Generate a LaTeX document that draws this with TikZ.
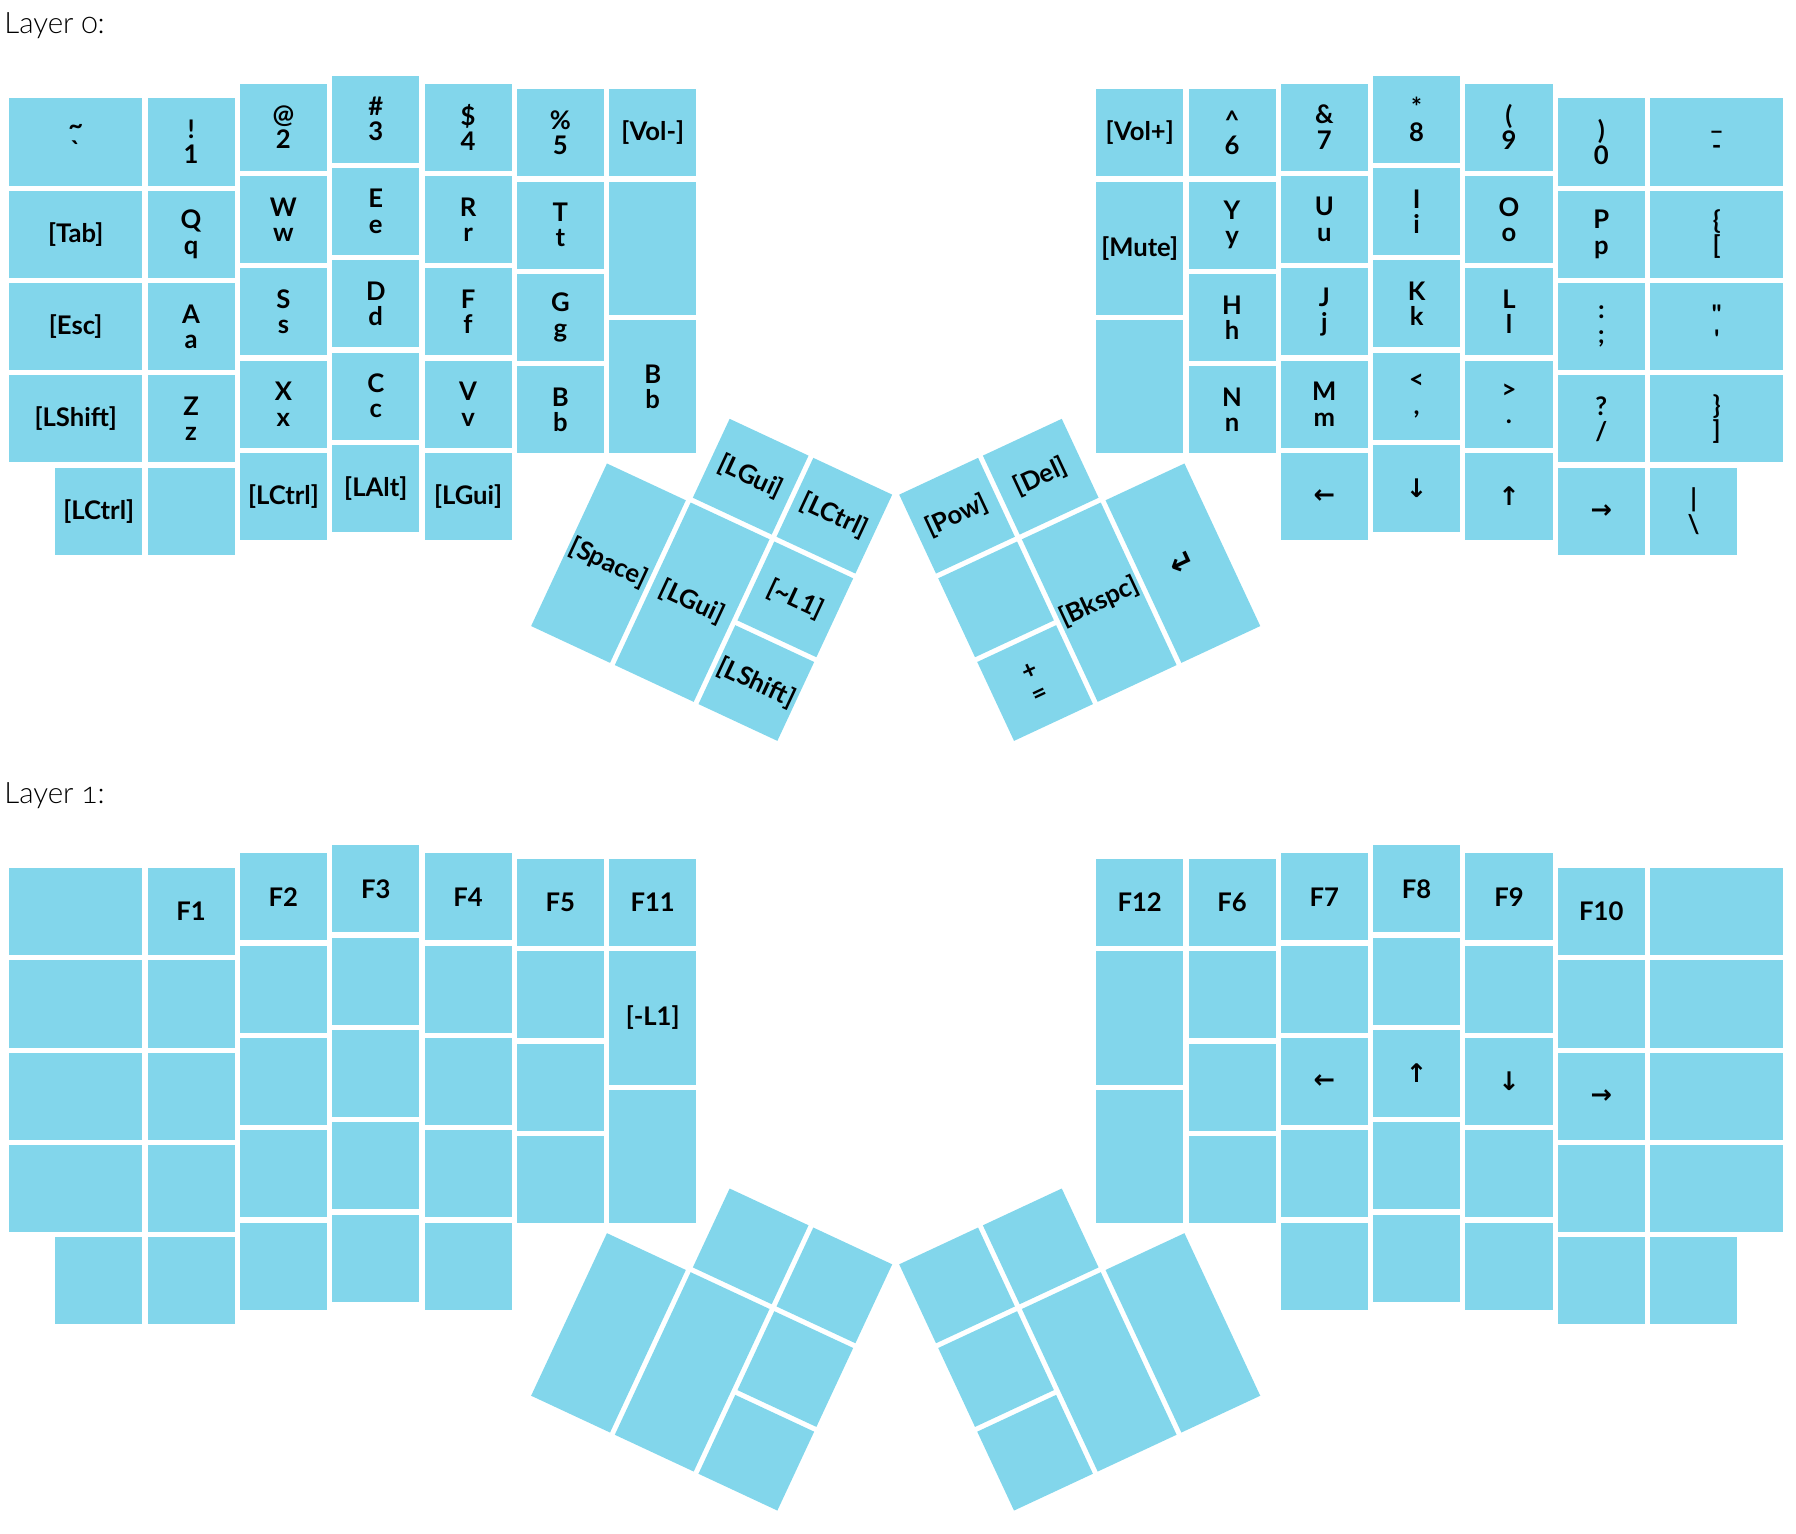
\documentclass[tikz,border=0pt]{standalone}
\usepackage{fontspec}
\setmainfont{Lato}
\newfontfamily\titlefont[Numbers=OldStyle]{Lato Light}
\newfontfamily\arrowfont{DejaVu Sans}
\definecolor{keyblue}{HTML}{82D6EB}

\begin{document}
\begin{tikzpicture}[x=1cm,y=-1cm,
  keycap/.style={fill=keyblue,inner sep=0pt,minimum width=.943cm,minimum height=.943cm},
  wide/.style={minimum width=1.443cm},
  tall/.style={minimum height=1.443cm},
  twou/.style={minimum height=1.943cm},
  legend/.style={inner sep=0pt,align=center,font=\fontsize{7.9}{7.8}\selectfont\bfseries},
  layertitle/.style={anchor=base west,inner sep=0pt,font=\titlefont\fontsize{9.1}{10}\selectfont}]
\useasboundingbox (0,0) rectangle (19.454,16.613);
% Both layers use the same split board; caps first, legends afterwards. One unit = one key pitch.
\foreach \ly/\lay in {0/0,8.337/1}{
\begin{scope}[shift={(0,\ly)}]
  \node[layertitle] (title\lay) at (.04,.368) {Layer \lay:};
  % left half: 1.5u outer column, five finger columns, tall inner column
  \foreach \r in {0,...,3}{\node[keycap,wide] (k\lay-L0-\r) at (.82,1.538+\r) {};}
  \node[keycap] (k\lay-L0-4) at (1.07,5.538) {};
  \foreach \c/\top in {1/1.038,2/.877,3/.79,4/.877,5/.939}{
    \foreach \r in {0,...,3}{\node[keycap] (k\lay-L\c-\r) at (1.07+\c,\top+.5+\r) {};}}
  \foreach \c/\top in {1/1.038,2/.877,3/.79,4/.877}{\node[keycap] (k\lay-L\c-4) at (1.07+\c,\top+4.5) {};}
  \node[keycap] (k\lay-L6-0) at (7.07,1.439) {};
  \node[keycap,tall] (k\lay-L6-1) at (7.07,2.689) {};
  \node[keycap,tall] (k\lay-L6-2) at (7.07,4.189) {};
  % right half, mirrored about x = 9.702
  \node[keycap] (k\lay-R0-0) at (12.345,1.439) {};
  \node[keycap,tall] (k\lay-R0-1) at (12.345,2.689) {};
  \node[keycap,tall] (k\lay-R0-2) at (12.345,4.189) {};
  \foreach \c/\top in {1/.939,2/.877,3/.79,4/.877,5/1.038}{
    \foreach \r in {0,...,3}{\node[keycap] (k\lay-R\c-\r) at (12.345+\c,\top+.5+\r) {};}}
  \foreach \c/\top in {2/.877,3/.79,4/.877,5/1.038}{\node[keycap] (k\lay-R\c-4) at (12.345+\c,\top+4.5) {};}
  \foreach \r in {0,...,3}{\node[keycap,wide] (k\lay-R6-\r) at (18.595,1.538+\r) {};}
  \node[keycap] (k\lay-R6-4) at (18.345,5.538) {};
  % thumb clusters, turned 25 degrees about the point where they meet
  \begin{scope}[shift={(9.702,5.344)},rotate=-25,transform shape]
    \node[keycap] (k\lay-TL1) at (-1.5,.5) {};
    \node[keycap] (k\lay-TL2) at (-.5,.5) {};
    \node[keycap,twou] (k\lay-TL3) at (-2.5,2) {};
    \node[keycap,twou] (k\lay-TL4) at (-1.5,2) {};
    \node[keycap] (k\lay-TL5) at (-.5,1.5) {};
    \node[keycap] (k\lay-TL6) at (-.5,2.5) {};
  \end{scope}
  \begin{scope}[shift={(9.702,5.344)},rotate=25,transform shape]
    \node[keycap] (k\lay-TR1) at (.5,.5) {};
    \node[keycap] (k\lay-TR2) at (1.5,.5) {};
    \node[keycap] (k\lay-TR3) at (.5,1.5) {};
    \node[keycap] (k\lay-TR4) at (.5,2.5) {};
    \node[keycap,twou] (k\lay-TR5) at (1.5,2) {};
    \node[keycap,twou] (k\lay-TR6) at (2.5,2) {};
  \end{scope}
\end{scope}}
% Layer 0 legends
\foreach \k/\txt in {L0-0/{\textasciitilde\\\textasciigrave},L0-1/{[Tab]},L0-2/{[Esc]},L0-3/{[LShift]},L0-4/{[LCtrl]},
  L1-0/{!\\1},L1-1/{Q\\q},L1-2/{A\\a},L1-3/{Z\\z},
  L2-0/{@\\2},L2-1/{W\\w},L2-2/{S\\s},L2-3/{X\\x},L2-4/{[LCtrl]},
  L3-0/{\#\\3},L3-1/{E\\e},L3-2/{D\\d},L3-3/{C\\c},L3-4/{[LAlt]},
  L4-0/{\$\\4},L4-1/{R\\r},L4-2/{F\\f},L4-3/{V\\v},L4-4/{[LGui]},
  L5-0/{\%\\5},L5-1/{T\\t},L5-2/{G\\g},L5-3/{B\\b},
  L6-0/{[Vol-]},L6-2/{B\\b},
  R0-0/{[Vol+]},R0-1/{[Mute]},
  R1-0/{\textasciicircum\\6},R1-1/{Y\\y},R1-2/{H\\h},R1-3/{N\\n},
  R2-0/{\&\\7},R2-1/{U\\u},R2-2/{J\\j},R2-3/{M\\m},R2-4/{\arrowfont ←},
  R3-0/{*\\8},R3-1/{I\\i},R3-2/{K\\k},R3-3/{<\\,},R3-4/{\arrowfont ↓},
  R4-0/{(\\9},R4-1/{O\\o},R4-2/{L\\l},R4-3/{>\\.},R4-4/{\arrowfont ↑},
  R5-0/{)\\0},R5-1/{P\\p},R5-2/{:\\;},R5-3/{?\\/},R5-4/{\arrowfont →},
  R6-0/{\_\\-},R6-1/{\{\\{[}},R6-2/{\textquotedbl\\\textquotesingle},R6-3/{\}\\]},R6-4/{\textbar\\\textbackslash}}
  {\node[legend] (t0-\k) at (k0-\k) {\txt};}
\foreach \k/\txt in {TL1/{[LGui]},TL2/{[LCtrl]},TL3/{[Space]},TL4/{[LGui]},TL5/{[\textasciitilde L1]},TL6/{[LShift]}}
  {\node[legend,rotate=-25] (t0-\k) at (k0-\k) {\txt};}
\foreach \k/\txt in {TR1/{[Pow]},TR2/{[Del]},TR4/{+\\=},TR5/{[Bkspc]},TR6/{\arrowfont\fontsize{9.5}{10}\selectfont ↵}}
  {\node[legend,rotate=25] (t0-\k) at (k0-\k) {\txt};}
% Layer 1 legends: function row and arrows
\foreach \k/\txt in {L1-0/F1,L2-0/F2,L3-0/F3,L4-0/F4,L5-0/F5,L6-0/F11,L6-1/{[-L1]},
  R0-0/F12,R1-0/F6,R2-0/F7,R3-0/F8,R4-0/F9,R5-0/F10,
  R2-2/{\arrowfont ←},R3-2/{\arrowfont ↑},R4-2/{\arrowfont ↓},R5-2/{\arrowfont →}}
  {\node[legend] (t1-\k) at (k1-\k) {\txt};}
\end{tikzpicture}
\end{document}
